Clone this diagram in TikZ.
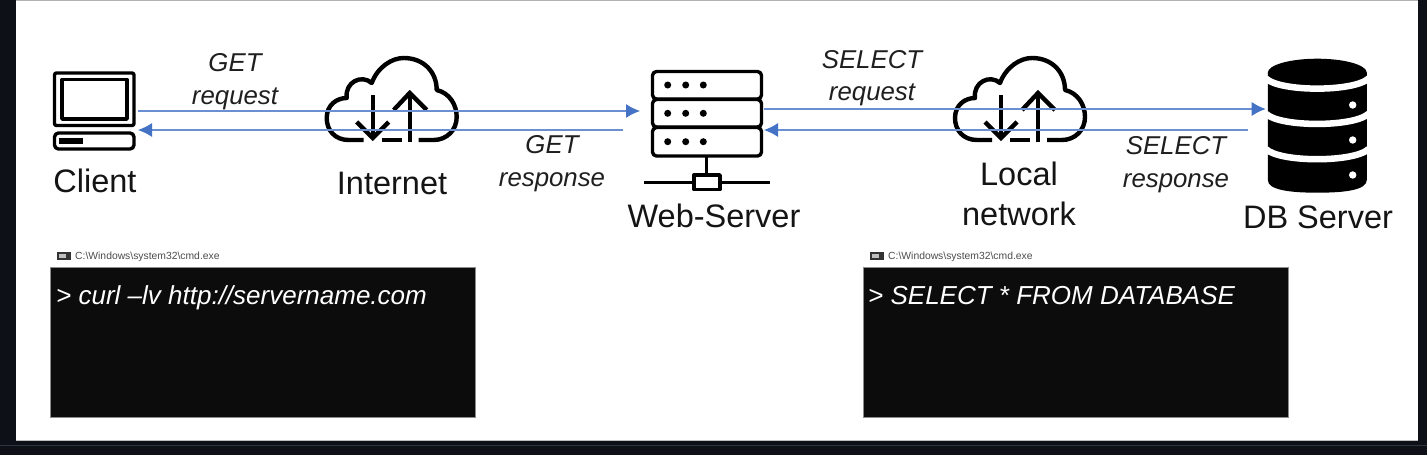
\documentclass[tikz,border=0pt]{standalone}
\usepackage{fontspec}
\setmainfont{Liberation Sans}
\usetikzlibrary{arrows.meta}
\definecolor{pagedark}{HTML}{0D1117}
\definecolor{stripline}{HTML}{30363D}
\definecolor{arrowblue}{HTML}{4472C4}
\definecolor{linkblue}{HTML}{6A8FD2}
\definecolor{termblack}{HTML}{0C0C0C}
\newcommand{\fs}[1]{\fontsize{#1}{#1}\selectfont}
\tikzset{
  x=1pt,y=-1pt,
  link/.style={draw=linkblue,line width=1.1pt,-{Latex[length=14pt,width=14pt,color=arrowblue]}},
  anchorbox/.style={inner sep=0pt,outer sep=0pt,draw=none},
  caption/.style={font=\fs{32.5},text=black!92,align=center,inner sep=0pt},
  msg/.style={font=\fs{25.8}\itshape,text=black!88,align=center,inner sep=0pt},
  termbox/.style={fill=termblack,draw=black!45,line width=0.6pt,minimum width=425pt,minimum height=150pt,anchor=north west,inner sep=0pt,outer sep=0pt},
  termtext/.style={font=\fs{26}\itshape,text=white,anchor=base west,inner sep=0pt},
  termtitle/.style={font=\fs{10.35},text=black!70,anchor=base west,inner sep=0pt},
  icon/.style={line width=3.4pt,draw=black,line join=round},
  cloudline/.style={line width=4.4pt,draw=black,line join=miter},
  cloudicon/.pic={
    \draw[cloudline,line join=round] (-28,0) -- (-43,0)
      .. controls (-57,0) and (-65,-10) .. (-65,-22)
      .. controls (-65,-35) and (-55,-42) .. (-45,-42)
      .. controls (-47,-58) and (-30,-66) .. (-20,-57)
      .. controls (-14,-73) and (0,-82) .. (12,-82)
      .. controls (32,-82) and (45,-68) .. (45,-50)
      .. controls (58,-47) and (65,-35) .. (65,-23)
      .. controls (65,-10) and (55,0) .. (42,0) -- (27,0);
    \draw[cloudline] (-10,0) -- (10,0);
    \draw[cloudline] (-19,-45) -- (-19,-2);
    \draw[cloudline] (-35,-18) -- (-19,-2) -- (-3,-18);
    \draw[cloudline] (18,2) -- (18,-47);
    \draw[cloudline] (2,-30) -- (18,-47) -- (35,-30);
  }
}
\begin{document}
\begin{tikzpicture}
\useasboundingbox (0,0) rectangle (1427,455);
\fill[pagedark] (0,0) rectangle (1427,455);
\fill[white] (16,0) rectangle (1418,440);
\draw[black!30,line width=1pt] (16,0.5) -- (1418,0.5);
\draw[black!25,line width=0.7pt] (16,440) -- (1418,440);
\draw[stripline,line width=1pt] (0,445.5) -- (1427,445.5);

% anchor boxes for the connectors
\node[anchorbox,minimum width=84.5pt,minimum height=78pt] (client) at (95.75,111) {};
\node[anchorbox,minimum width=124pt,minimum height=90pt] (web) at (702,111) {};
\node[anchorbox,minimum width=100pt,minimum height=120pt] (db) at (1315.7,109) {};

% client laptop
\draw[icon,rounded corners=2pt] (54.5,73) rectangle (134,125.5);
\draw[icon] (62,79.5) rectangle (127,119);
\draw[icon,rounded corners=4pt] (54.5,133) rectangle (134,149);
\fill[black] (59,138) rectangle (83,143.5);

% clouds
\pic at (391.7,140) {cloudicon};
\pic at (1020,140) {cloudicon};

% web server
\foreach \ya/\yb/\yd in {71.5/99/85,99.5/127/113.3,127.5/156/141.7}{
  \draw[icon,rounded corners=4pt] (652.5,\ya) rectangle (761.5,\yb);
  \foreach \xd in {667.7,685.7,703.3}{\fill[black] (\xd,\yd) circle (3.5);}
}
\draw[icon] (706.7,156) -- (706.7,175);
\draw[icon] (644,182.3) -- (694,182.3);
\draw[icon] (720,182.3) -- (770,182.3);
\draw[icon] (694,175) rectangle (720,189.5);

% database
\fill[black] (1267.8,72.7) -- (1267.8,180)
  .. controls (1267.8,190) and (1290,192.7) .. (1317.3,192.7)
  .. controls (1345,192.7) and (1366.8,190) .. (1366.8,180)
  -- (1366.8,72.7) -- cycle;
\fill[black] (1317.3,72.7) ellipse [x radius=49.5,y radius=14];
\foreach \yy in {0,35.3,70.6}{
  \draw[white,line width=6.5pt] (1266,78.5+\yy) .. controls (1280,92+\yy) and (1354,92+\yy) .. (1368.5,78.5+\yy);
}
\foreach \yd in {105,140,175}{\fill[white] (1352.7,\yd) circle (3.7);}

% connectors
\draw[link] (client.east) -- (web.west);
\draw[link] ([xshift=-17pt,yshift=-19pt]web.west) -- ([yshift=-19pt]client.east);
\draw[link] ([yshift=2pt]web.east) -- (db.west);
\draw[link] ([xshift=-17.7pt,yshift=-21pt]db.west) -- ([yshift=-19pt]web.east);

% captions
\node[caption,anchor=base] (lclient) at (95,192) {Client};
\node[caption,anchor=base] (linternet) at (392,194) {Internet};
\node[caption,anchor=base] (lweb) at (714,227) {Web-Server};
\node[caption] (llocal) at (1019,194) {Local\\[8pt]network};
\node[caption,anchor=base] (ldb) at (1318,228) {DB Server};

% message labels
\node[msg] (getreq) at (235,82) {GET\\[7pt]request};
\node[msg] (getres) at (552,164) {GET\\[7pt]response};
\node[msg] (selreq) at (872,78.5) {SELECT\\[6pt]request};
\node[msg] (selres) at (1176,165) {SELECT\\[7pt]response};

% terminals
\node[termbox] (term1) at (50.5,267) {};
\node[termbox] (term2) at (863,267) {};
\node[termtext] (cmd1) at (56,304) {> curl –lv http://servername.com};
\node[termtext] (cmd2) at (868,304) {> SELECT * FROM DATABASE};
\foreach \xx in {57,870}{
  \fill[black!80] (\xx,251.5) rectangle (\xx+14,260);
  \fill[black!25] (\xx+2,254) rectangle (\xx+9,258);
}
\node[termtitle] (title1) at (75,259.5) {C:\textbackslash Windows\textbackslash system32\textbackslash cmd.exe};
\node[termtitle] (title2) at (888,259.5) {C:\textbackslash Windows\textbackslash system32\textbackslash cmd.exe};
\end{tikzpicture}
\end{document}
